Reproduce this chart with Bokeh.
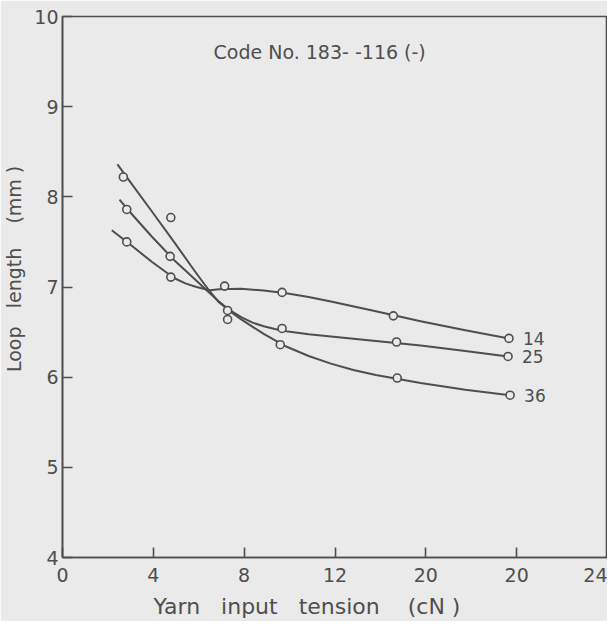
from bokeh.plotting import figure
from bokeh.models import ColumnDataSource, Label, FixedTicker, Range1d
from bokeh.embed import file_html
from bokeh.resources import INLINE
from bokeh.core.properties import value

tension_14 = [2.83, 4.77, 7.14, 9.67, 14.57, 19.66]
loop_14 = [7.50, 7.11, 7.01, 6.94, 6.68, 6.43]
tension_25 = [2.83, 4.74, 7.27, 9.67, 14.71, 19.62]
loop_25 = [7.86, 7.34, 6.74, 6.54, 6.39, 6.23]
tension_36 = [2.68, 4.77, 7.27, 9.59, 14.74, 19.71]
loop_36 = [8.22, 7.77, 6.64, 6.36, 5.99, 5.80]

# ---- fitted curves as drawn in the picture ----
fit_x_14 = [2.17, 2.94, 3.93, 4.91, 5.41, 5.90, 6.49, 6.89, 7.87, 8.86, 9.85, 10.84, 11.82,
            13.80, 15.77, 17.74, 19.66]
fit_14 = [7.63, 7.48, 7.28, 7.10, 7.04, 7.00, 6.965, 6.975, 6.98, 6.96, 6.93, 6.89, 6.84,
          6.73, 6.62, 6.52, 6.43]
fit_x_25 = [2.51, 2.94, 3.93, 4.91, 5.90, 6.49, 6.89, 7.38, 7.87, 8.37, 8.86, 9.35, 9.85,
            10.84, 11.82, 13.80, 15.77, 17.74, 19.62]
fit_25 = [7.97, 7.84, 7.56, 7.30, 7.07, 6.93, 6.84, 6.74, 6.665, 6.605, 6.565, 6.535, 6.51,
          6.475, 6.45, 6.40, 6.35, 6.29, 6.23]
fit_x_36 = [2.42, 2.94, 3.93, 4.91, 5.90, 6.49, 6.89, 7.38, 7.87, 8.86, 9.85, 10.84, 11.82,
            12.81, 13.80, 15.77, 17.74, 19.71]
fit_36 = [8.36, 8.18, 7.84, 7.50, 7.15, 6.95, 6.83, 6.73, 6.64, 6.48, 6.34, 6.235, 6.15,
          6.08, 6.025, 5.935, 5.86, 5.80]

series_names = ["14", "25", "36"]
x_ticks = [0, 4, 8, 12, 16, 20, 24]
x_tick_labels = ["0", "4", "8", "12", "20", "20", "24"]
y_ticks = [4, 5, 6, 7, 8, 9, 10]
title_text = "Code No. 183- -116 (-)"
NB = "\u00a0"
x_title = "Yarn" + NB * 3 + "input" + NB * 3 + "tension" + NB * 4 + "(cN )" + NB * 8
y_title = NB * 6 + "Loop" + NB * 3 + "length" + NB * 4 + "(mm )"

BG = "#eaeaea"
INK = "#4e4e4e"
FONT = "DejaVu Sans"

p = figure(width=607, height=621, output_backend="svg", toolbar_location=None,
           x_range=Range1d(0, 24), y_range=Range1d(4, 10),
           min_border_left=62, min_border_right=0, min_border_top=16, min_border_bottom=62)
p.background_fill_color = BG
p.border_fill_color = BG
p.outline_line_color = INK
p.outline_line_width = 1.6
p.xgrid.visible = False
p.ygrid.visible = False

for ax in (p.xaxis[0], p.yaxis[0]):
    ax.axis_line_color = INK
    ax.axis_line_width = 1.6
    ax.major_tick_line_color = INK
    ax.major_tick_line_width = 1.6
    ax.major_tick_in = 10
    ax.major_tick_out = 0
    ax.minor_tick_line_color = None
    ax.major_label_text_color = INK
    ax.major_label_text_font = FONT
    ax.major_label_text_font_size = "19px"
    ax.axis_label_text_color = INK
    ax.axis_label_text_font = FONT
    ax.axis_label_text_font_style = "normal"

p.xaxis.ticker = FixedTicker(ticks=x_ticks)
p.xaxis.major_label_overrides = {t: l for t, l in zip(x_ticks, x_tick_labels)}
p.xaxis.axis_label = x_title
p.xaxis.axis_label_text_font_size = "22px"
p.xaxis.major_label_standoff = 10
p.xaxis.axis_label_standoff = 9

p.yaxis.ticker = FixedTicker(ticks=y_ticks)
p.yaxis.axis_label = y_title
p.yaxis.axis_label_text_font_size = "19px"
p.yaxis.major_label_standoff = 4
p.yaxis.axis_label_standoff = 6

for fx, fy in ((fit_x_14, fit_14), (fit_x_25, fit_25), (fit_x_36, fit_36)):
    p.line(fx, fy, line_color=INK, line_width=2, line_join="round")

for tx, ys in ((tension_14, loop_14), (tension_25, loop_25), (tension_36, loop_36)):
    p.scatter(tx, ys, marker="circle", size=8, line_color=INK, line_width=1.6,
              fill_color=BG)

lab_src = ColumnDataSource(dict(x=[tension_14[-1], tension_25[-1], tension_36[-1]],
                                y=[loop_14[-1], loop_25[-1], loop_36[-1]],
                                text=series_names))
p.text(x="x", y="y", text="text", source=lab_src, x_offset=14, text_baseline="middle",
       text_color=INK, text_font=value(FONT), text_font_size="17px")

p.add_layout(Label(x=6.65, y=9.61, text=title_text, text_baseline="middle",
                   text_color=INK, text_font=FONT, text_font_size="19px"))

open("out.html", "w").write(file_html(p, INLINE))
